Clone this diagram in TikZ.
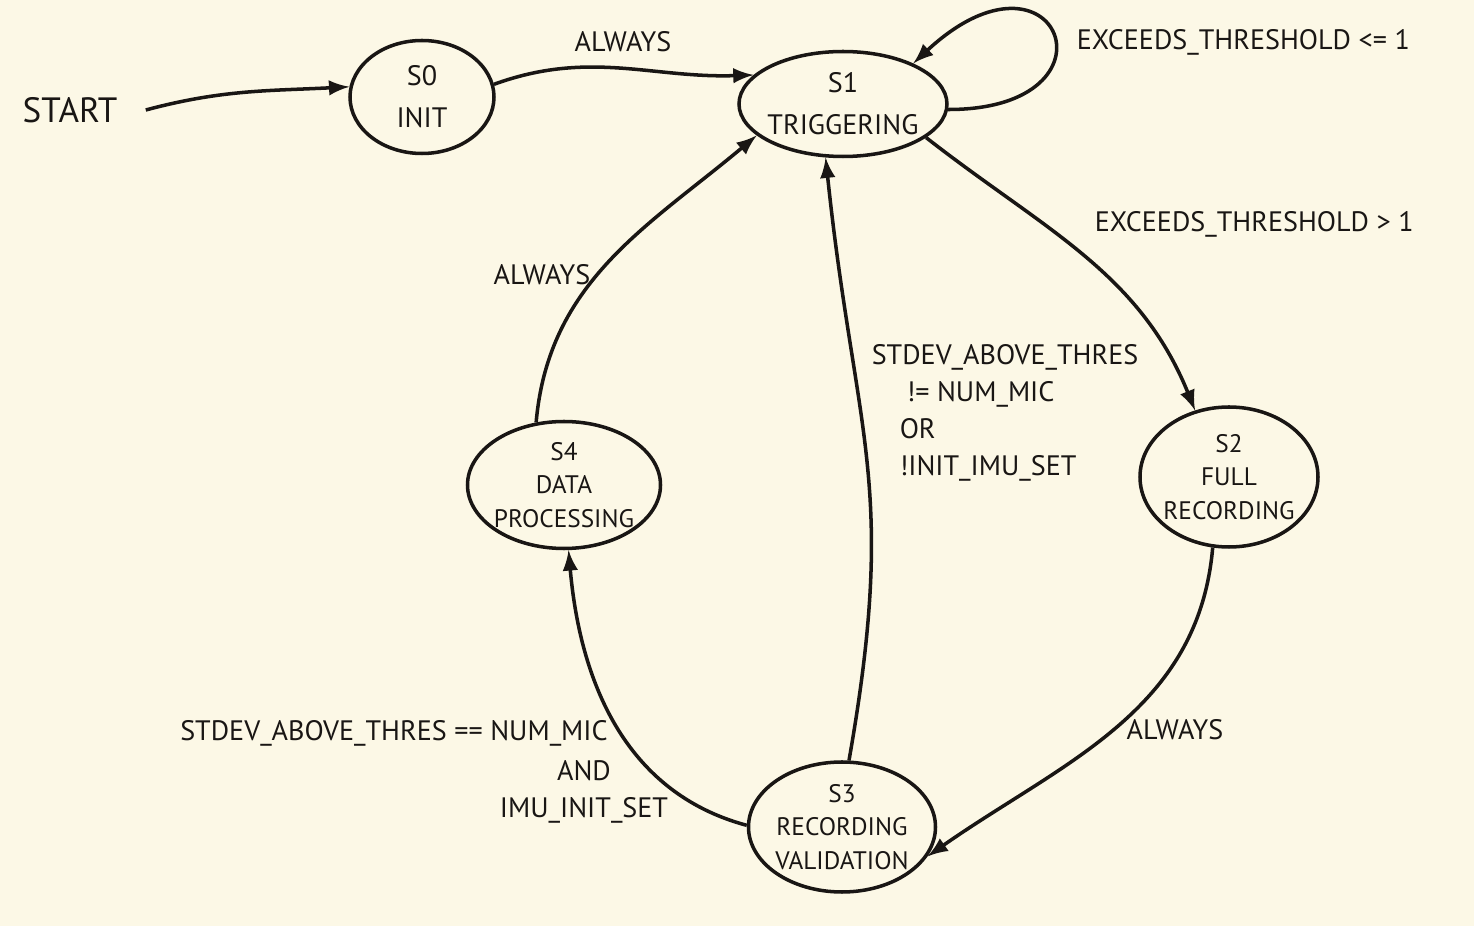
\documentclass[tikz,border=0pt]{standalone}
\usepackage{fontspec}
\setmainfont{PT Sans}
\usepackage{tikz}
\usetikzlibrary{arrows,shapes.geometric}
\definecolor{paper}{RGB}{252,248,230}
\definecolor{ink}{RGB}{25,22,20}

\begin{document}
\begin{tikzpicture}[line width=1pt,ink,
  stnode/.style={draw,ellipse,inner xsep=-0.3cm,inner ysep=-0.25cm,align=center,font=\fontsize{8}{12}\selectfont},
  bignode/.style={stnode,font=\fontsize{7.2}{9.6}\selectfont},
  lbl/.style={font=\fontsize{8}{10.5}\selectfont,align=left,inner sep=0pt},
  trans/.style={-latex}]

\fill[paper] (0,0) rectangle (14.74,9.26);
\useasboundingbox (0,0) rectangle (14.74,9.26);

% states
\node (start) at (0.70,8.16) {\fontsize{10}{12}\selectfont START};
\node[stnode,minimum width=1.44cm,minimum height=1.13cm] (s0) at (4.22,8.29) {S0\\INIT};
\node[stnode,minimum width=2.08cm,minimum height=1.05cm] (s1) at (8.43,8.22) {S1\\TRIGGERING};
\node[bignode,minimum width=1.78cm,minimum height=1.40cm] (s2) at (12.29,4.49) {S2\\FULL\\RECORDING};
\node[bignode,minimum width=1.87cm,minimum height=1.30cm] (s3) at (8.42,0.99) {S3\\RECORDING\\VALIDATION};
\node[bignode,minimum width=1.93cm,minimum height=1.27cm] (s4) at (5.64,4.41) {S4\\DATA\\PROCESSING};

% transitions
\draw[trans] (start.east) ++(0.15,0) coordinate (st) to[out=15,in=183] (s0.172);
\draw[trans] (s0.10) to[out=20,in=182] (s1.162);
\draw[trans] (s1.-3) .. controls +(1.8,0) and +(1.45,1.35) .. (s1.30);
\draw[trans] (s1.-22) to[out=-38,in=112] (s2.117);
\draw[trans] (s2.-103) to[out=-95,in=35] (s3.-19);
\draw[trans] (s3.84) to[out=80,in=-84,looseness=1.2] (s1.-108);
\draw[trans] (s3.179) to[out=165,in=-85] (s4.-86);
\draw[trans] (s4.114) to[out=85,in=-140] (s1.200);

% guards
\node[lbl] (l01) at (6.23,8.84) {ALWAYS};
\node[lbl,anchor=west] (l11) at (10.75,8.84) {EXCEEDS\_THRESHOLD <= 1};
\node[lbl,anchor=west] (l12) at (10.93,7.02) {EXCEEDS\_THRESHOLD > 1};
\node[lbl] (l23) at (11.75,1.96) {ALWAYS};
\node[lbl,anchor=north west] (l31) at (8.70,5.83) {STDEV\_ABOVE\_THRES\\\hspace*{0.35cm}!= NUM\_MIC\\\hspace*{0.28cm}OR\\\hspace*{0.28cm}!INIT\_IMU\_SET};
\node[lbl] (l34a) at (3.94,1.93) {STDEV\_ABOVE\_THRES == NUM\_MIC};
\node[lbl,align=center] (l34b) at (5.84,1.34) {AND\\IMU\_INIT\_SET};
\node[lbl] (l41) at (5.42,6.51) {ALWAYS};

\end{tikzpicture}
\end{document}
